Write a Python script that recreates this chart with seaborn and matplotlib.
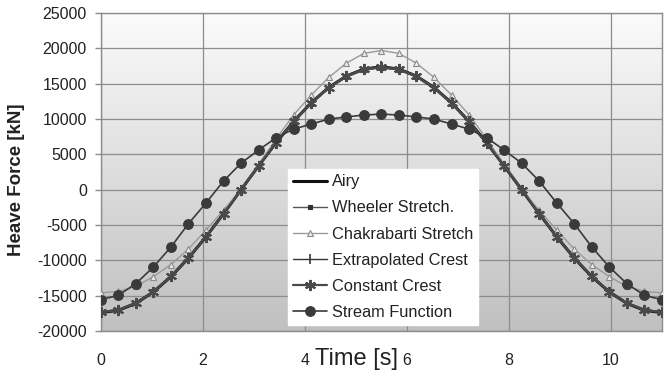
import numpy as np
import pandas as pd
import matplotlib
matplotlib.use("Agg")
import matplotlib.pyplot as plt
from matplotlib.colors import LinearSegmentedColormap
import seaborn as sns

# ---- data ----
time_s = [0.0, 0.34375, 0.6875, 1.03125, 1.375, 1.71875, 2.0625, 2.40625, 2.75,
          3.09375, 3.4375, 3.78125, 4.125, 4.46875, 4.8125, 5.15625, 5.5,
          5.84375, 6.1875, 6.53125, 6.875, 7.21875, 7.5625, 7.90625, 8.25,
          8.59375, 8.9375, 9.28125, 9.625, 9.96875, 10.3125, 10.65625, 11.0]

airy = [-17400, -17070, -16080, -14470, -12300, -9670, -6660, -3390, 0,
        3390, 6660, 9670, 12300, 14470, 16080, 17070, 17400,
        17070, 16080, 14470, 12300, 9670, 6660, 3390, 0,
        -3390, -6660, -9670, -12300, -14470, -16080, -17070, -17400]

wheeler = [-17300, -16980, -16000, -14400, -12250, -9630, -6640, -3380, 0,
           3370, 6620, 9600, 12200, 14350, 15950, 16950, 17270,
           16950, 15950, 14350, 12200, 9600, 6620, 3370, 0,
           -3380, -6640, -9630, -12250, -14400, -16000, -16980, -17300]

chakrabarti = [-14600, -14400, -13700, -12300, -10600, -8400, -5700, -2900, 0,
               3600, 7200, 10600, 13400, 15900, 17900, 19300, 19700,
               19300, 17900, 15900, 13400, 10600, 7200, 3600, 0,
               -2900, -5700, -8400, -10600, -12300, -13700, -14400, -14600]

extrapolated = [-17400, -17070, -16080, -14470, -12300, -9670, -6660, -3390, 0,
                3400, 6680, 9700, 12350, 14530, 16150, 17150, 17450,
                17150, 16150, 14530, 12350, 9700, 6680, 3400, 0,
                -3390, -6660, -9670, -12300, -14470, -16080, -17070, -17400]

constant = [-17350, -17030, -16050, -14450, -12280, -9660, -6650, -3390, 0,
            3390, 6650, 9660, 12280, 14450, 16050, 17030, 17350,
            17030, 16050, 14450, 12280, 9660, 6650, 3390, 0,
            -3390, -6650, -9660, -12280, -14450, -16050, -17030, -17350]

stream = [-15570, -14950, -13300, -10940, -8110, -4810, -1880, 1230, 3760,
          5620, 7360, 8580, 9290, 10000, 10300, 10570, 10700,
          10570, 10300, 10000, 9290, 8580, 7360, 5620, 3760,
          1230, -1880, -4810, -8110, -10940, -13300, -14950, -15570]

series_names = ["Airy", "Wheeler Stretch.", "Chakrabarti Stretch",
                "Extrapolated Crest", "Constant Crest", "Stream Function"]
x_ticks = [0, 2, 4, 6, 8, 10]
y_ticks = [-20000, -15000, -10000, -5000, 0, 5000, 10000, 15000, 20000, 25000]

# ---- style ----
sns.set_theme(style="white")
plt.rcParams["font.family"] = ["Liberation Sans", "DejaVu Sans"]

fig = plt.figure(figsize=(6.72, 3.74), dpi=100)
ax = fig.add_axes([0.150, 0.115, 0.835, 0.850])

xmin, xmax, ymin, ymax = 0, 11, -20000, 25000

# gradient background: light at the top, grey at the bottom
grad = np.linspace(0, 1, 256).reshape(-1, 1)
cmap = LinearSegmentedColormap.from_list("bg", ["#fbfbfb", "#c0c0c0"])
ax.imshow(grad, extent=[xmin, xmax, ymin, ymax], aspect="auto", cmap=cmap,
          origin="upper", zorder=0, interpolation="bilinear")

styles = [
    dict(color="#111111", lw=2.2, marker=None),
    dict(color="#555555", lw=1.0, marker="s", ms=3, mec="#333333", mfc="#333333", mew=0.8),
    dict(color="#9a9a9a", lw=1.0, marker="^", ms=5, mfc="#ececec", mec="#8a8a8a", mew=0.8),
    dict(color="#333333", lw=1.0, marker="|", ms=7, mew=1.2, mec="#333333"),
    dict(color="#4a4a4a", lw=1.6, marker=(6, 2, 0), ms=8, mew=1.5, mec="#4a4a4a"),
    dict(color="#3a3a3a", lw=1.2, marker="o", ms=7, mfc="#3a3a3a", mec="#3a3a3a", mew=0.8),
]
values = [airy, wheeler, chakrabarti, extrapolated, constant, stream]

for name, vals, st in zip(series_names, values, styles):
    df = pd.DataFrame({"t": time_s, "F": vals})
    kw = dict(st)
    lw = kw.pop("lw")
    sns.lineplot(data=df, x="t", y="F", ax=ax, label=name, linewidth=lw,
                 sort=False, zorder=3, **kw)

ax.set_xlim(xmin, xmax)
ax.set_ylim(ymin, ymax)
ax.set_xticks(x_ticks)
ax.set_yticks(y_ticks)
ax.set_xticklabels([str(v) for v in x_ticks])
ax.set_yticklabels([str(v) for v in y_ticks])

ax.set_axisbelow(True)
ax.grid(True, color="#8c8c8c", linewidth=0.9, zorder=1)
for sp in ax.spines.values():
    sp.set_color("#8c8c8c")
    sp.set_linewidth(1.0)
    sp.set_visible(True)

ax.tick_params(axis="x", length=0, pad=16, labelsize=11.5, colors="#222222")
ax.tick_params(axis="y", length=4, width=1, color="#8c8c8c", pad=6,
               labelsize=11.5, labelcolor="#222222", left=True)

ax.set_xlabel("Time [s]", fontsize=17, color="#222222")
ax.xaxis.set_label_coords(0.456, -0.055)
ax.set_ylabel("Heave Force [kN]", fontsize=13.5, fontweight="bold", color="#222222")
ax.yaxis.set_label_coords(-0.135, 0.475)

leg = ax.legend(loc="lower left", bbox_to_anchor=(0.333, 0.019), borderaxespad=0,
                fontsize=11.8, frameon=True, fancybox=False, framealpha=1,
                edgecolor="white", facecolor="white", handlelength=2.1,
                handletextpad=0.3, labelspacing=0.68, borderpad=0.3)
for txt in leg.get_texts():
    txt.set_color("#222222")

fig.savefig("out.png", dpi=100)
